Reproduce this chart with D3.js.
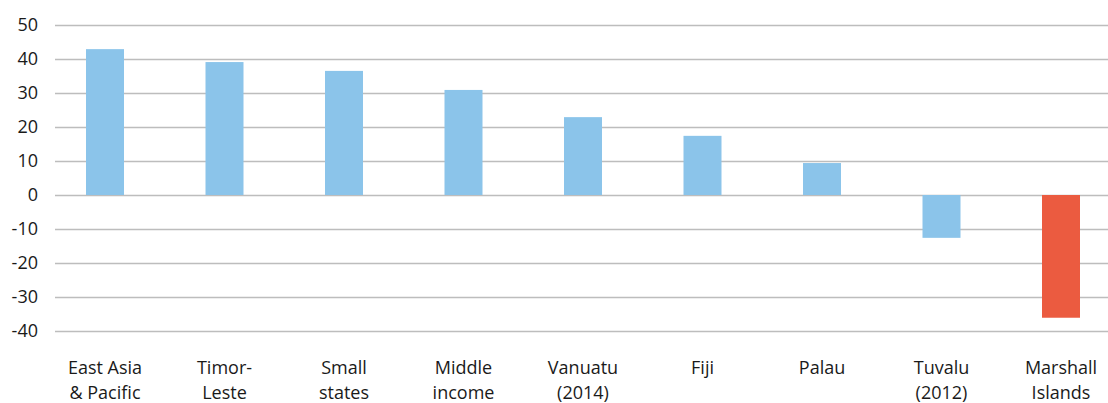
<!DOCTYPE html>
<html>
<head>
<meta charset="utf-8">
<script src="https://cdn.jsdelivr.net/npm/d3@7"></script>
<style>
  html, body { margin: 0; padding: 0; background: #fff; }
  svg { display: block; }
  text { font-family: "Open Sans", "Noto Sans", sans-serif; fill: #1a1a1a; }
</style>
</head>
<body>
<svg id="chart" width="1108" height="403"></svg>
<script>
// Categories (label lines) and values
const categories = [
  ["East Asia", "& Pacific"],
  ["Timor-", "Leste"],
  ["Small", "states"],
  ["Middle", "income"],
  ["Vanuatu", "(2014)"],
  ["Fiji"],
  ["Palau"],
  ["Tuvalu", "(2012)"],
  ["Marshall", "Islands"]
];
const values = [42.9, 39.1, 36.5, 30.9, 22.9, 17.4, 9.4, -12.6, -36.1];
const highlighted = ["Marshall Islands"];
const yTicks = [50, 40, 30, 20, 10, 0, -10, -20, -30, -40];

const svg = d3.select("#chart");
const names = categories.map(c => c.join(" "));

const y = d3.scaleLinear().domain([-40, 50]).range([331, 25]);
const x = d3.scaleBand()
  .domain(names)
  .range([45.25, 1120.75])
  .paddingInner(0.682)
  .paddingOuter(0.341);

// Horizontal gridlines with value labels (plain hyphen for negatives)
const yAxis = d3.axisLeft(y)
  .tickValues(yTicks)
  .tickSize(-(1108 - 55))
  .tickPadding(17)
  .tickFormat(d => String(d));

const gy = svg.append("g")
  .attr("transform", "translate(55,0)")
  .call(yAxis);
gy.select(".domain").remove();
gy.selectAll(".tick line")
  .attr("stroke", "#bdbdbd")
  .attr("stroke-width", 1.6);
gy.selectAll(".tick text")
  .attr("font-size", 18)
  .attr("fill", "#1a1a1a")
  .style("font-family", "'Open Sans', sans-serif");

// Bars
svg.append("g").selectAll("rect")
  .data(values)
  .join("rect")
  .attr("x", (d, i) => x(names[i]))
  .attr("width", x.bandwidth())
  .attr("y", d => y(Math.max(0, d)))
  .attr("height", d => Math.abs(y(d) - y(0)))
  .attr("fill", (d, i) => highlighted.includes(names[i]) ? "#eb5b40" : "#8bc4ea");

// Category labels, two lines each
const lab = svg.append("g").selectAll("text")
  .data(categories)
  .join("text")
  .attr("text-anchor", "middle")
  .attr("font-size", 18)
  .attr("transform", (d, i) => `translate(${x(names[i]) + x.bandwidth() / 2},374)`);
lab.selectAll("tspan")
  .data(d => d)
  .join("tspan")
  .attr("x", 0)
  .attr("dy", (d, i) => i === 0 ? 0 : 25)
  .text(d => d);
</script>
</body>
</html>
